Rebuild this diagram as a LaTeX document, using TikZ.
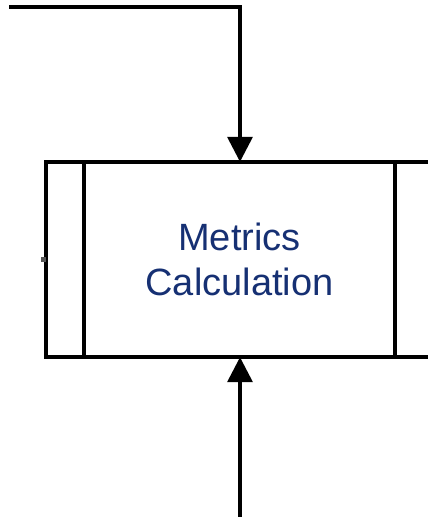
\documentclass[tikz,border=0pt]{standalone}
\usepackage{fontspec}
\setmainfont{Liberation Sans}
\usetikzlibrary{arrows.meta}
\definecolor{labelblue}{RGB}{22,48,115}
\definecolor{stubgray}{RGB}{85,85,85}
\tikzset{
  conn/.style={line width=3.5pt, -{Triangle[width=25pt,length=25pt]}},
  frame/.style={line width=3.3pt},
  proclabel/.style={inner sep=0pt, align=center, minimum width=311pt, minimum height=195pt,
    font=\fontsize{38}{45}\selectfont, text=labelblue}
}
\begin{document}
\begin{tikzpicture}[x=1pt,y=-1pt]
\useasboundingbox (0,0) rectangle (428,517);
\clip (0,0) rectangle (428,517);
\node[proclabel] (proc) at (239.5,259.5) {Metrics\\Calculation};
\draw[frame] (46,162) rectangle (470,357);
\draw[frame] (84,162) -- (84,357);
\draw[frame] (395,162) -- (395,357);
\coordinate (start) at (9,7);
\coordinate (bend) at (240,7);
\coordinate (bottom) at (240,530);
\coordinate (stub) at (41,259.5);
\coordinate (leftedge) at (46,259.5);
\draw[conn] (start) -- (bend) -- (bend |- proc.north);
\draw[conn] (bottom) -- (bottom |- proc.south);
\draw[line width=4.5pt, stubgray] (stub) -- (leftedge);
\end{tikzpicture}
\end{document}
